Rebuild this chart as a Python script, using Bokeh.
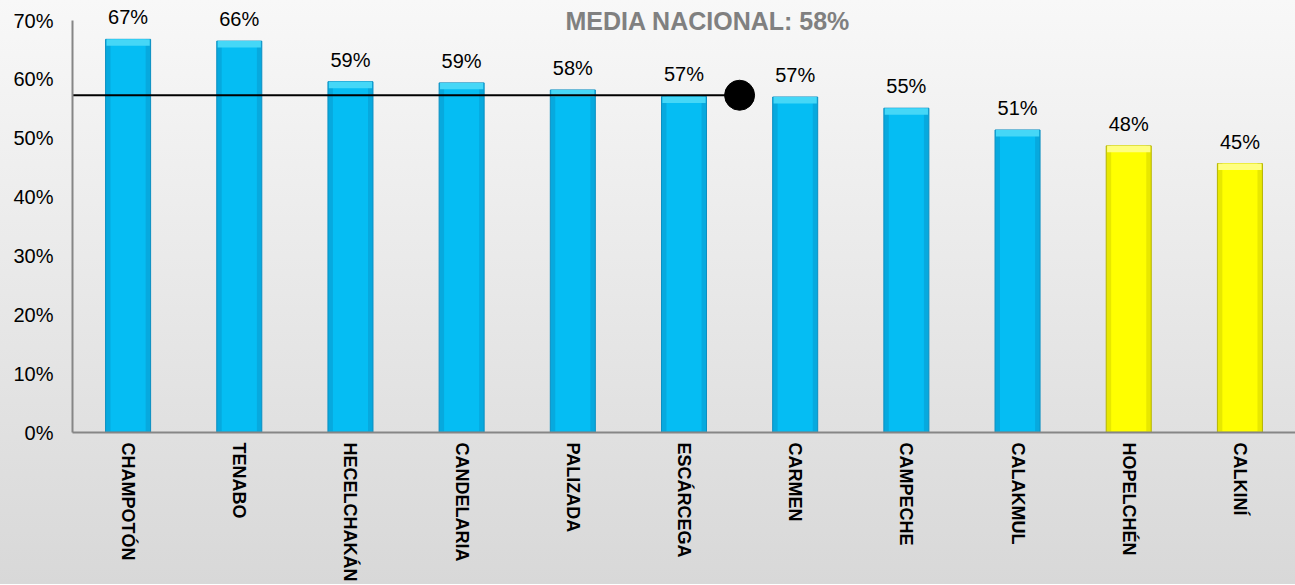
from bokeh.plotting import figure
from bokeh.models import (FactorRange, Range1d, FixedTicker, PrintfTickFormatter,
                          ColumnDataSource, LabelSet, Label)
from bokeh.core.properties import value
from bokeh.embed import file_html
from bokeh.resources import INLINE

# ---- data ----
municipios = ["CHAMPOTÓN", "TENABO", "HECELCHAKÁN", "CANDELARIA", "PALIZADA",
              "ESCÁRCEGA", "CARMEN", "CAMPECHE", "CALAKMUL", "HOPELCHÉN", "CALKINÍ"]
valores = [66.8, 66.5, 59.6, 59.4, 58.2, 57.1, 57.0, 55.1, 51.4, 48.7, 45.7]
etiquetas = ["67%", "66%", "59%", "59%", "58%", "57%", "57%", "55%", "51%", "48%", "45%"]
debajo_media = [False, False, False, False, False, False, False, False, False, True, True]
media_nacional = 57.3
titulo = "MEDIA NACIONAL: 58%"
y_ticks = [0, 10, 20, 30, 40, 50, 60, 70]

# ---- styles ----
FONT = "Liberation Sans"
BLUE_EDGE, BLUE_SIDE, BLUE, BLUE_CAP = "#0A8FC2", "#07A9DE", "#05BDF3", "#45D7F7"
YEL_EDGE, YEL_SIDE, YEL, YEL_CAP = "#B5B400", "#E8E800", "#FFFF00", "#FFFF80"

side = [YEL_SIDE if d else BLUE_SIDE for d in debajo_media]
fill = [YEL if d else BLUE for d in debajo_media]
edge = [YEL_EDGE if d else BLUE_EDGE for d in debajo_media]
cap = [YEL_CAP if d else BLUE_CAP for d in debajo_media]

src = ColumnDataSource(dict(x=municipios, top=valores, lab=etiquetas, fill=fill,
                            side=side, edge=edge, cap=cap,
                            capb=[v - 1.1 for v in valores]))

Y_MAX = 70
FRAME_H = 432
PX_PER_UNIT = 412 / Y_MAX           # 70% sits 20 px below the top of the frame
y_end = FRAME_H / PX_PER_UNIT

p = figure(x_range=FactorRange(*municipios, range_padding=0), y_range=Range1d(0, y_end),
           frame_width=1223, frame_height=FRAME_H,
           min_border_left=72, min_border_top=0, min_border_right=0, min_border_bottom=10,
           output_backend="svg", toolbar_location=None)
p.styles = {"background": "linear-gradient(#f8f8f8, #d8d8d8)"}
p.background_fill_alpha = 0
p.border_fill_alpha = 0
p.outline_line_color = None
p.xgrid.grid_line_color = None
p.ygrid.grid_line_color = None

BW = 0.405
p.vbar(x="x", top="top", bottom=0, width=BW, source=src, fill_color="side",
       line_color="edge", line_width=1)
p.vbar(x="x", top="top", bottom=0.2, width=BW * 0.78, source=src, fill_color="fill",
       line_color=None)
p.vbar(x="x", top="top", bottom="capb", width=BW * 0.96, source=src, fill_color="cap",
       line_color=None)

# national mean line up to the boundary after ESCÁRCEGA
line_end = municipios.index("ESCÁRCEGA") + 1
p.segment(x0=[0], x1=[line_end], y0=[media_nacional], y1=[media_nacional],
          line_color="black", line_width=2)
p.scatter(x=[line_end], y=[media_nacional], size=30, color="black")

labels = LabelSet(x="x", y="top", text="lab", source=src, text_align="center",
                  text_baseline="alphabetic", y_offset=15, text_font=value(FONT),
                  text_font_size="20px", text_color="black")
p.add_layout(labels)

p.add_layout(Label(x=5.715, y=Y_MAX, text=titulo, text_align="center",
                   text_baseline="alphabetic", text_font=FONT, text_font_size="25px",
                   text_font_style="bold", text_color="#808080"))

p.yaxis.ticker = FixedTicker(ticks=y_ticks)
p.yaxis.formatter = PrintfTickFormatter(format="%d%%")
p.yaxis.bounds = (0, Y_MAX)
for ax in (p.xaxis, p.yaxis):
    ax.axis_line_color = "#868686"
    ax.axis_line_width = 2
    ax.major_tick_line_color = None
    ax.minor_tick_line_color = None
    ax.major_tick_out = 0
    ax.major_tick_in = 0
    ax.major_label_text_font = FONT
    ax.major_label_text_color = "black"
p.yaxis.major_label_text_font_size = "20px"
p.yaxis.major_label_standoff = 19
p.xaxis.major_label_text_font_size = "18px"
p.xaxis.major_label_text_font_style = "bold"
p.xaxis.major_label_orientation = "vertical"
p.xaxis.major_label_standoff = 10

open("out.html", "w").write(file_html(p, INLINE))
